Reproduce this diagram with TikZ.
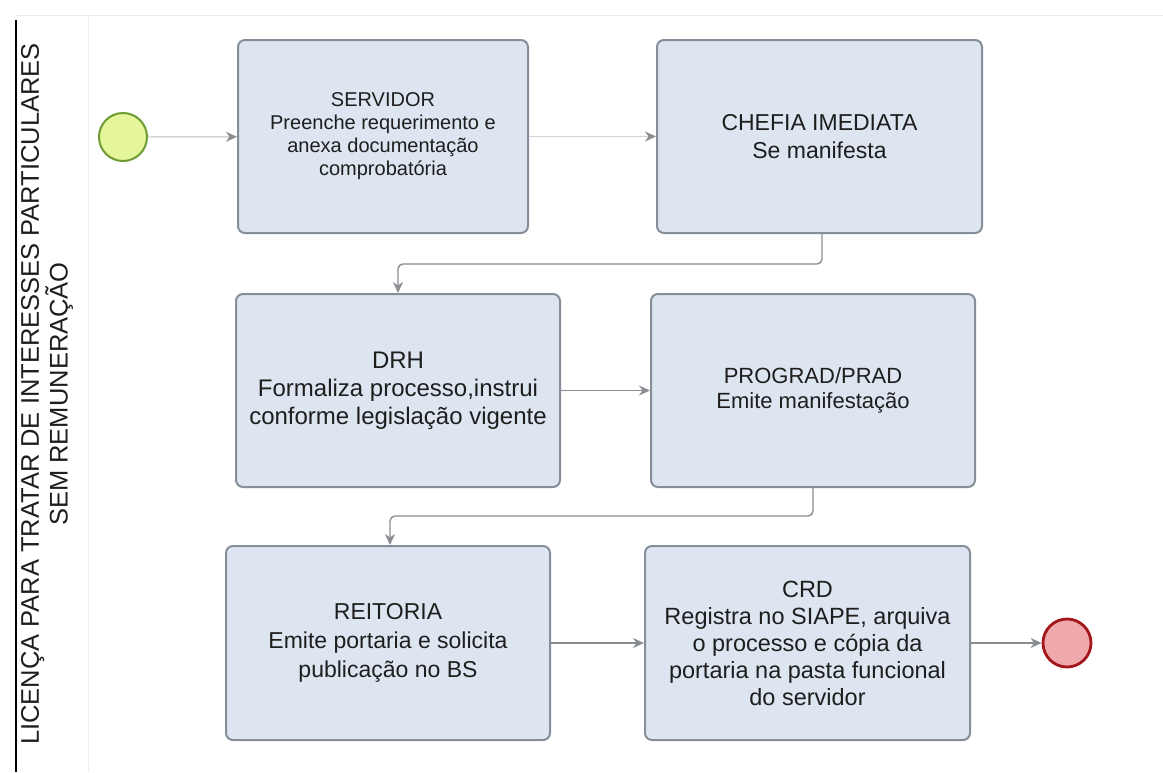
\documentclass[tikz,border=0pt]{standalone}
\usepackage{fontspec}
\setmainfont{Liberation Sans}
\usetikzlibrary{arrows.meta}

\definecolor{taskfill}{HTML}{DCE5F0}
\definecolor{taskline}{HTML}{858E99}
\definecolor{flowline}{HTML}{8A8D92}
\definecolor{faintline}{HTML}{D2D4D7}
\definecolor{startfill}{HTML}{E4F59A}
\definecolor{startline}{HTML}{6E9A34}
\definecolor{endfill}{HTML}{F0A9AB}
\definecolor{endline}{HTML}{A3161C}
\definecolor{inktext}{HTML}{1E1E1E}

\tikzset{
  task/.style={draw=taskline, line width=2pt, fill=taskfill, rounded corners=7pt,
    minimum height=193pt, align=center, text=inktext, inner sep=4pt},
  startevent/.style={circle, draw=startline, line width=2pt, fill=startfill, minimum size=48pt, inner sep=0pt},
  endevent/.style={circle, draw=endline, line width=2.8pt, fill=endfill, minimum size=48pt, inner sep=0pt},
  flow/.style={draw=flowline, line width=1.4pt, rounded corners=5pt,
    -{Stealth[length=11pt, width=10pt, inset=3.5pt, color=flowline]}},
  txt/.style 2 args={font=\fontsize{#1}{#2}\selectfont}
}

\begin{document}
\begin{tikzpicture}[x=1pt, y=-1pt]
  \useasboundingbox[fill=white] (0,0) rectangle (1163,772);

  % pool frame and lane label
  \draw[black, line width=1.6pt] (16,20) -- (16,772);
  \draw[black!8, line width=1pt] (16,15) -- (1163,15);
  \draw[black!6, line width=1pt] (88,15) -- (88,772);
  \node[rotate=90, align=center, text=inktext, font=\fontsize{25.5}{22}\selectfont] (lane) at (47,394)
    {LICENÇA PARA TRATAR DE INTERESSES PARTICULARES\\SEM REMUNERAÇÃO};

  % events
  \node[startevent] (start) at (123,137) {};
  \node[endevent] (finish) at (1067,643) {};

  % tasks
  \node[task, minimum width=290pt, txt={20}{23}] (servidor) at (383,136.5)
    {SERVIDOR\\Preenche requerimento e\\anexa documentação\\comprobatória};
  \node[task, minimum width=325pt, txt={23}{28}] (chefia) at (819.5,136.5)
    {CHEFIA IMEDIATA\\Se manifesta};
  \node[task, minimum width=324pt, txt={24}{28}] (drh) at (398,390.5)
    {DRH\\Formaliza processo,instrui\\conforme legislação vigente};
  \node[task, minimum width=324pt, txt={22}{25}] (prograd) at (813,390.5)
    {PROGRAD/PRAD\\Emite manifestação};
  \node[task, minimum width=324pt, minimum height=194pt, txt={23}{29}] (reitoria) at (388,643)
    {REITORIA\\Emite portaria e solicita\\publicação no BS};
  \node[task, minimum width=325pt, minimum height=194pt, txt={23.5}{27}] (crd) at (807.5,643)
    {CRD\\Registra no SIAPE, arquiva\\o processo e cópia da\\portaria na pasta funcional\\do servidor};

  % sequence flows
  \draw[flow, draw=faintline] (start) -- (servidor);
  \draw[flow, draw=faintline] (servidor) -- (chefia);
  \draw[flow] (chefia.south -| 822,0) |- (398,264) -- (drh.north -| 398,0);
  \draw[flow] (drh) -- (prograd);
  \draw[flow] (prograd.south -| 813,0) |- (390,516) -- (reitoria.north -| 390,0);
  \draw[flow] (reitoria) -- (crd);
  \draw[flow] (crd) -- (finish);
\end{tikzpicture}
\end{document}
